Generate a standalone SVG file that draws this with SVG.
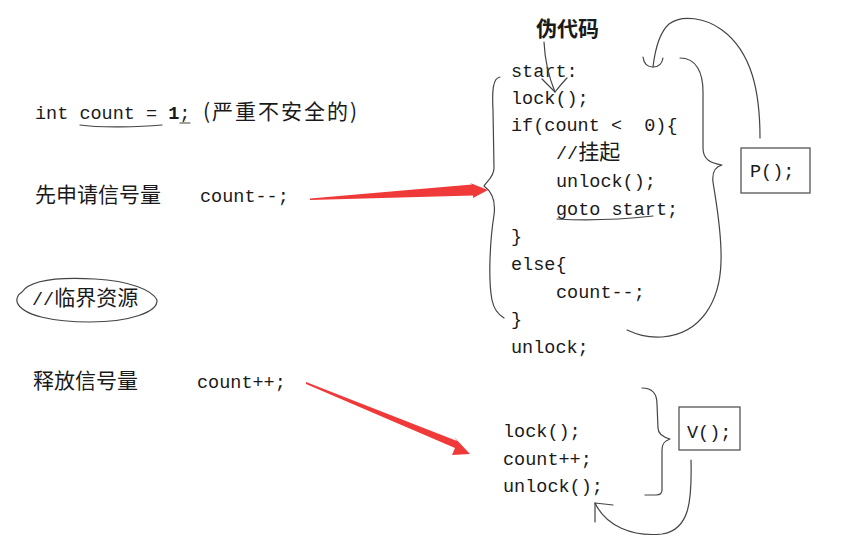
<svg xmlns="http://www.w3.org/2000/svg" width="864" height="552" viewBox="0 0 864 552">
<style>
.code{font-family:"Liberation Mono","Noto Sans CJK SC",monospace;font-size:18.5px;fill:#1a1a1a;white-space:pre}
.cjk{font-family:"Noto Sans CJK SC",sans-serif;font-size:21px;fill:#1a1a1a}
.hand{fill:none;stroke:#444;stroke-width:1.2;stroke-linecap:round;stroke-linejoin:round}
.box{fill:#fff;stroke:#555;stroke-width:1.3}
.red{fill:#f03a3a}
</style>
<rect width="864" height="552" fill="#fff"/>

<g id="decl">
<text class="code" x="35" y="119" xml:space="preserve">int count = <tspan font-weight="bold">1</tspan>;</text>
<text class="cjk" x="203" y="119" textLength="154" lengthAdjust="spacing">(严重不安全的)</text>
</g>

<g id="acquire">
<text class="cjk" x="35" y="202">先申请信号量</text>
<text class="code" x="200" y="202">count--;</text>
</g>

<g id="critical">
<text class="code" x="32" y="305">//<tspan class="cjk">临界资源</tspan></text>
</g>

<g id="release">
<text class="cjk" x="33" y="388">释放信号量</text>
<text class="code" x="197" y="388">count++;</text>
</g>

<g id="pseudo-label">
<text class="cjk" x="536" y="36" font-weight="600">伪代码</text>
</g>

<g id="p-code">
<text class="code" x="511" y="77">start:</text>
<text class="code" x="511" y="104">lock();</text>
<text class="code" x="511" y="131" xml:space="preserve">if(count &lt;  0){</text>
<text class="code" x="556" y="159">//<tspan class="cjk">挂起</tspan></text>
<text class="code" x="556" y="187">unlock();</text>
<text class="code" x="556" y="215">goto start;</text>
<text class="code" x="511" y="242">}</text>
<text class="code" x="511" y="270">else{</text>
<text class="code" x="556" y="298">count--;</text>
<text class="code" x="511" y="325">}</text>
<text class="code" x="511" y="353">unlock;</text>
</g>

<g id="p-box">
<rect class="box" x="741" y="148" width="69" height="45"/>
<text class="code" x="750" y="177" font-size="19">P();</text>
</g>

<g id="v-code">
<text class="code" x="503" y="437">lock();</text>
<text class="code" x="503" y="465">count++;</text>
<text class="code" x="503" y="492">unlock();</text>
</g>

<g id="v-box">
<rect class="box" x="679" y="407" width="61" height="43"/>
<text class="code" x="687" y="438" font-size="19">V();</text>
</g>

<g id="connectors">
<!-- underlines -->
<path class="hand" d="M80,125 C100,128 140,127 162,125"/>
<path class="hand" d="M180,123 L190,123"/>
<path class="hand" d="M557,219 C590,221 625,219 653,216"/>
<!-- ellipse around critical resource -->
<path class="hand" d="M22,292 C30,280 60,277 95,279 C130,281 152,290 157,300 C158,312 130,322 90,322 C55,322 22,316 17,302 C16,297 19,294 22,292"/>
<!-- label arrow -->
<path class="hand" d="M544,42 C545,62 550,80 555,92"/>
<path class="hand" d="M542,79 C547,84 551,88 555,92 C559,87 563,82 567,78"/>
<!-- left brace of P code -->
<path class="hand" d="M500,77 C493,78 492,90 493,110 L494,168 C494,177 487,181 484,186 C491,191 496,200 494,215 C490,240 488,280 492,300 C494,310 499,315 504,318"/>
<!-- right brace of P code -->
<path class="hand" d="M680,58 C696,58 703,72 703,92 L703,148 C703,160 711,163 722,165 C714,167 712,173 713,182 C716,202 722,232 721,262 C720,300 702,334 662,337 C646,338 636,334 627,330"/>
<!-- P box back to start -->
<path class="hand" d="M760,138 C760,92 752,52 722,30 C706,18 682,14 669,24 C659,33 655,50 653,67"/>
<path class="hand" d="M643,57 C644,65 648,67 653,67 C658,67 662,64 663,58"/>
<!-- lower brace -->
<path class="hand" d="M642,388 C652,388 657,394 657,404 L658,428 C658,434 663,437 670,439 C664,441 662,444 662,450 L662,490 C662,494 660,495 656,495 L645,495"/>
<!-- V box to unlock -->
<path class="hand" d="M691,460 C692,500 690,530 662,534 C632,537 606,526 595,503"/>
<path class="hand" d="M595,522 L595,503 L613,505"/>
<!-- red arrows -->
<polygon class="red" points="310,198.5 472,184.5 470,183 488,190 473,198 473,195.5 310,200"/>
<polygon class="red" points="306,382 457,441 454,437 470,454 452,455 455,448 306,384"/>
</g>
</svg>
